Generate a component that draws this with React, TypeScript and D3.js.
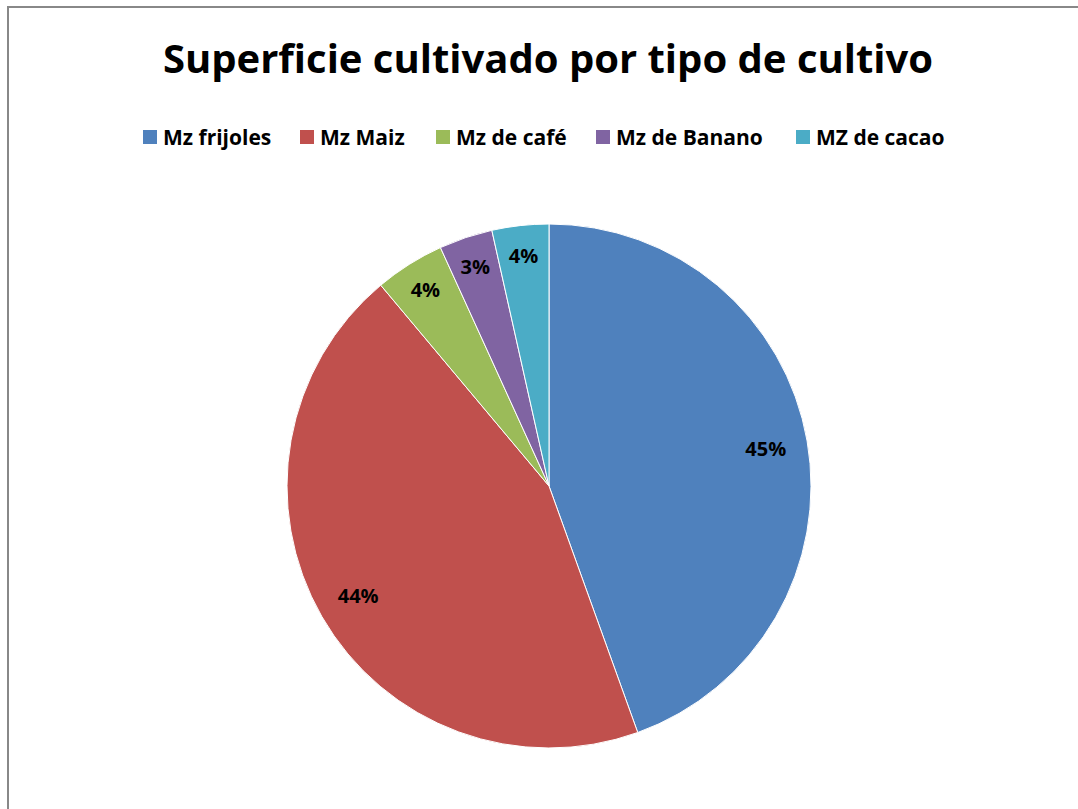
import React from "react";
import * as d3 from "d3";

const categories = ["Mz frijoles", "Mz Maiz", "Mz de café", "Mz de Banano", "MZ de cacao"];
const values = [44.5, 44.4, 4.3, 3.3, 3.5];
const colors = ["#4F81BD", "#C0504D", "#9BBB59", "#8064A2", "#4BACC6"];
const title = "Superficie cultivado por tipo de cultivo";

const W = 1078;
const H = 809;
const FONT = "'Open Sans', sans-serif";

export default function App() {
  const cx = 549;
  const cy = 486;
  const R = 262;
  const pie = d3.pie<number>().sort(null).value((d) => d)(values);
  const arc = d3.arc<d3.PieArcDatum<number>>().innerRadius(0).outerRadius(R);
  const total = d3.sum(values);

  const legendY = 137;
  const legendX = [143, 300, 436, 596, 796];

  return (
    <svg width={W} height={H} style={{ position: "absolute", left: 0, top: 0, background: "#fff" }}>
      <rect x={8} y={7} width={W + 20} height={H + 20} fill="#fff" stroke="#888" strokeWidth={2} />
      <text x={548} y={57} textAnchor="middle" dominantBaseline="central" fontFamily={FONT} fontWeight="bold" fontSize={40} fill="#000" style={{ fontVariantLigatures: "none" }}>
        {title}
      </text>
      {categories.map((c, i) => (
        <g key={c}>
          <rect x={legendX[i]} y={legendY - 7} width={14} height={14} fill={colors[i]} />
          <text x={legendX[i] + 20} y={legendY} dominantBaseline="central" fontFamily={FONT} fontWeight="bold" fontSize={21} fill="#000">
            {c}
          </text>
        </g>
      ))}
      <g transform={`translate(${cx},${cy})`}>
        {pie.map((p, i) => (
          <path key={i} d={arc(p) || ""} fill={colors[i]} stroke="#fff" strokeWidth={1} />
        ))}
        {pie.map((p, i) => {
          const share = p.value / total;
          const r = R * (share > 0.1 ? 0.84 : 0.885);
          const [x, y] = d3.arc<d3.PieArcDatum<number>>().innerRadius(r).outerRadius(r).centroid(p);
          return (
            <text key={"l" + i} x={x} y={y} textAnchor="middle" dominantBaseline="central" fontFamily={FONT} fontWeight="bold" fontSize={20} fill="#000">
              {Math.round(share * 100) + "%"}
            </text>
          );
        })}
      </g>
    </svg>
  );
}
